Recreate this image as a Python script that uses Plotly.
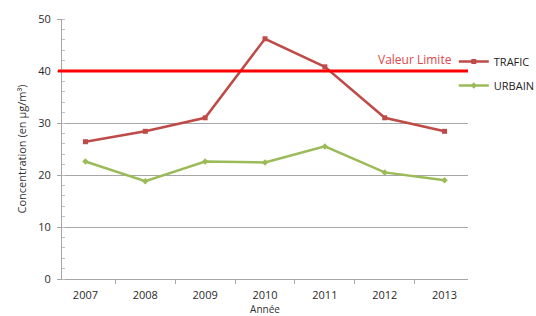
import plotly.graph_objects as go

years = ["2007", "2008", "2009", "2010", "2011", "2012", "2013"]
trafic = [26.4, 28.4, 31.0, 46.2, 40.8, 31.0, 28.4]
urbain = [22.6, 18.8, 22.6, 22.4, 25.5, 20.5, 19.0]
valeur_limite = 40
y_ticks = [0, 10, 20, 30, 40, 50]

fig = go.Figure()
fig.add_trace(go.Scatter(x=years, y=trafic, name="TRAFIC", mode="lines+markers", legendgroup="t",
                         line=dict(color="#BE4B48", width=2.5),
                         marker=dict(symbol="square", size=5, color="#BE4B48")))
fig.add_trace(go.Scatter(x=years, y=urbain, name="URBAIN", mode="lines+markers", legendgroup="u",
                         line=dict(color="#9BBB59", width=2.5),
                         marker=dict(symbol="diamond", size=5, color="#9BBB59")))

fig.add_shape(type="line", xref="paper", yref="y", x0=-0.01, x1=1, y0=valeur_limite, y1=valeur_limite,
              line=dict(color="#FF0000", width=3), layer="above")
fig.add_annotation(text="Valeur Limite", xref="paper", yref="y", x=0.965, y=valeur_limite,
                   xanchor="right", yanchor="bottom", showarrow=False, yshift=1,
                   font=dict(color="#E0474C", size=12, family="Open Sans"))

fig.update_layout(
    width=536, height=316,
    margin=dict(l=62, r=68, t=19, b=37, autoexpand=False),
    paper_bgcolor="white", plot_bgcolor="white",
    font=dict(family="Open Sans", size=10, color="#333333"),
    showlegend=True,
    legend=dict(x=0.965, y=0.892, xanchor="left", yanchor="top",
                font=dict(size=11, color="#222222"), itemwidth=30,
                tracegroupgap=5, bgcolor="rgba(0,0,0,0)"),
)
fig.update_xaxes(showline=True, linecolor="#A6A6A6", linewidth=1, automargin=False,
                 ticks="outside", tickson="boundaries", ticklen=4, tickcolor="#A6A6A6",
                 showgrid=False, ticklabelstandoff=6,
                 title=dict(text="Année", font=dict(size=10), standoff=3),
                 tickfont=dict(size=11, color="#2A2A2A"))
fig.update_yaxes(range=[0, 50], tickvals=y_ticks, showline=True, linecolor="#A6A6A6", linewidth=1,
                 ticks="outside", ticklen=4, tickcolor="#A6A6A6", automargin=False,
                 gridcolor="#A6A6A6", gridwidth=1, zeroline=False, ticklabelstandoff=4,
                 minor=dict(dtick=2, ticks="inside", ticklen=3, tickcolor="#BFBFBF", showgrid=False),
                 title=dict(text="Concentration (en µg/m³)", font=dict(size=11), standoff=9),
                 tickfont=dict(size=11, color="#2A2A2A"))

fig.write_html("out.html", config={"displayModeBar": False},
               post_script="document.body.style.margin='0';document.body.style.overflow='hidden';")
